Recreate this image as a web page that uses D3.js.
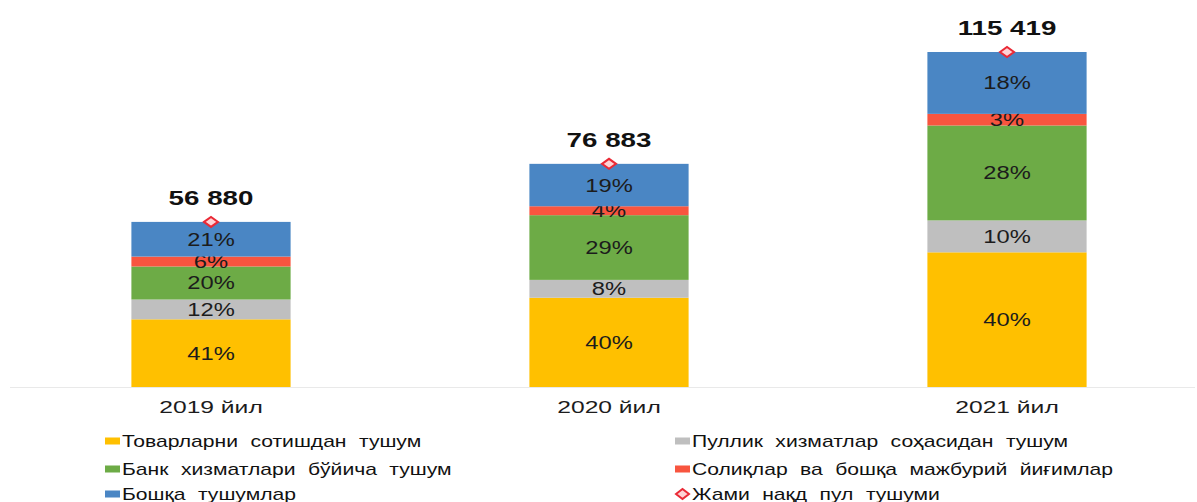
<!DOCTYPE html>
<html>
<head>
<meta charset="utf-8">
<script src="https://cdn.jsdelivr.net/npm/d3@7"></script>
<style>
    body { margin: 0; background: #fff; }
    svg { display: block; font-family: "Liberation Sans", Arial, sans-serif; }
</style>
</head>
<body>
<div id="container"></div>
<script>
// ------------------------ DATA ------------------------ //
const years = ["2019 йил", "2020 йил", "2021 йил"];
const totals = [56880, 76883, 115419];
const goods = [23321, 30753, 46400];        // Товарларни сотишдан тушум
const paidServices = [6826, 6151, 11000];   // Пуллик хизматлар соҳасидан тушум
const bank = [11376, 22296, 32700];         // Банк хизматлари бўйича тушум
const taxes = [3413, 3075, 4000];           // Солиқлар ва бошқа мажбурий йиғимлар
const other = [11945, 14608, 21319];        // Бошқа тушумлар

const seriesNames = [
    "Товарларни сотишдан тушум",
    "Пуллик хизматлар соҳасидан тушум",
    "Банк хизматлари бўйича тушум",
    "Солиқлар ва бошқа мажбурий йиғимлар",
    "Бошқа тушумлар"
];
const totalName = "Жами нақд пул тушуми";

// ------------------------ SETUP ------------------------ //
const width = 1197, height = 502;
const sx = 1.32; // source text looks horizontally stretched
const colors = ["#FFC000", "#BFBFBF", "#6DAB46", "#F8553F", "#4A86C4"];

const svg = d3.select("#container").append("svg")
    .attr("width", width)
    .attr("height", height);

const keys = ["goods", "paid", "bank", "taxes", "other"];
const table = years.map(function (y, i) {
    return {year: y, total: totals[i], goods: goods[i], paid: paidServices[i],
        bank: bank[i], taxes: taxes[i], other: other[i]};
});
const stacked = d3.stack().keys(keys)(table);

const x = d3.scaleBand().domain(years).range([12, 1206])
    .paddingInner(0.6).paddingOuter(0.3);
const y = d3.scaleLinear().domain([0, 120000]).range([387, 38.7]);
const color = d3.scaleOrdinal().domain(keys).range(colors);

// baseline
svg.append("line")
    .attr("x1", 10).attr("x2", 1195)
    .attr("y1", y(0) + 0.5).attr("y2", y(0) + 0.5)
    .attr("stroke", "#e9e9e9").attr("stroke-width", 1);

// ------------------------ BARS ------------------------ //
const layers = svg.selectAll("g.layer")
    .data(stacked)
    .enter().append("g")
    .attr("class", "layer")
    .attr("fill", function (d) { return color(d.key); });

layers.selectAll("rect")
    .data(function (d) { return d; })
    .enter().append("rect")
    .attr("x", function (d) { return x(d.data.year); })
    .attr("y", function (d) { return y(d[1]); })
    .attr("width", x.bandwidth())
    .attr("height", function (d) { return y(d[0]) - y(d[1]); });

// percent labels
layers.selectAll("text")
    .data(function (d) { return d; })
    .enter().append("text")
    .attr("transform", function (d) {
        const cx = x(d.data.year) + x.bandwidth() / 2;
        const cy = (y(d[0]) + y(d[1])) / 2;
        return "translate(" + cx + "," + cy + ") scale(" + sx + ",1)";
    })
    .attr("text-anchor", "middle")
    .attr("dy", "0.36em")
    .attr("fill", "#1c1c1c")
    .style("font-size", "18px")
    .text(function (d) {
        return Math.round((d[1] - d[0]) / d.data.total * 100) + "%";
    });

// totals: diamond + label
const fmt = function (v) { return d3.format(",")(v).replace(/,/g, " "); };

svg.selectAll("path.marker")
    .data(table)
    .enter().append("path")
    .attr("class", "marker")
    .attr("d", "M-7,0L0,-5L7,0L0,5Z")
    .attr("transform", function (d) {
        return "translate(" + (x(d.year) + x.bandwidth() / 2) + "," + y(d.total) + ")";
    })
    .attr("fill", "#ffd3d6")
    .attr("stroke", "#ea2a36")
    .attr("stroke-width", 2);

svg.selectAll("text.total")
    .data(table)
    .enter().append("text")
    .attr("class", "total")
    .attr("transform", function (d) {
        return "translate(" + (x(d.year) + x.bandwidth() / 2) + "," + (y(d.total) - 17) + ") scale(" + sx + ",1)";
    })
    .attr("text-anchor", "middle")
    .attr("fill", "#111")
    .style("font-size", "21px")
    .style("font-weight", "bold")
    .text(function (d) { return fmt(d.total); });

// category labels
svg.selectAll("text.cat")
    .data(years)
    .enter().append("text")
    .attr("class", "cat")
    .attr("transform", function (d) {
        return "translate(" + (x(d) + x.bandwidth() / 2) + ",413) scale(1.45,1)";
    })
    .attr("text-anchor", "middle")
    .attr("fill", "#1c1c1c")
    .style("font-size", "17px")
    .text(function (d) { return d; });

// ------------------------ LEGEND ------------------------ //
const legendItems = [
    {name: seriesNames[0], key: "goods", col: 0, row: 0},
    {name: seriesNames[1], key: "paid", col: 1, row: 0},
    {name: seriesNames[2], key: "bank", col: 0, row: 1},
    {name: seriesNames[3], key: "taxes", col: 1, row: 1},
    {name: seriesNames[4], key: "other", col: 0, row: 2},
    {name: totalName, key: "total", col: 1, row: 2}
];
const colX = [105, 675];
const rowY = [441, 469, 494];

const legend = svg.selectAll("g.legend")
    .data(legendItems)
    .enter().append("g")
    .attr("class", "legend")
    .attr("transform", function (d) {
        return "translate(" + colX[d.col] + "," + rowY[d.row] + ")";
    });

legend.filter(function (d) { return d.key !== "total"; })
    .append("rect")
    .attr("x", 0).attr("y", -3.5)
    .attr("width", 15).attr("height", 7)
    .attr("fill", function (d) { return color(d.key); });

legend.filter(function (d) { return d.key === "total"; })
    .append("path")
    .attr("d", "M1,0L7.5,-5L14,0L7.5,5Z")
    .attr("fill", "#ffd3d6")
    .attr("stroke", "#ea2a36")
    .attr("stroke-width", 2);

legend.append("text")
    .attr("transform", "translate(17,0) scale(" + sx + ",1)")
    .attr("dy", "0.36em")
    .attr("fill", "#111")
    .style("font-size", "16px")
    .style("word-spacing", "5px")
    .text(function (d) { return d.name; });
</script>
</body>
</html>
